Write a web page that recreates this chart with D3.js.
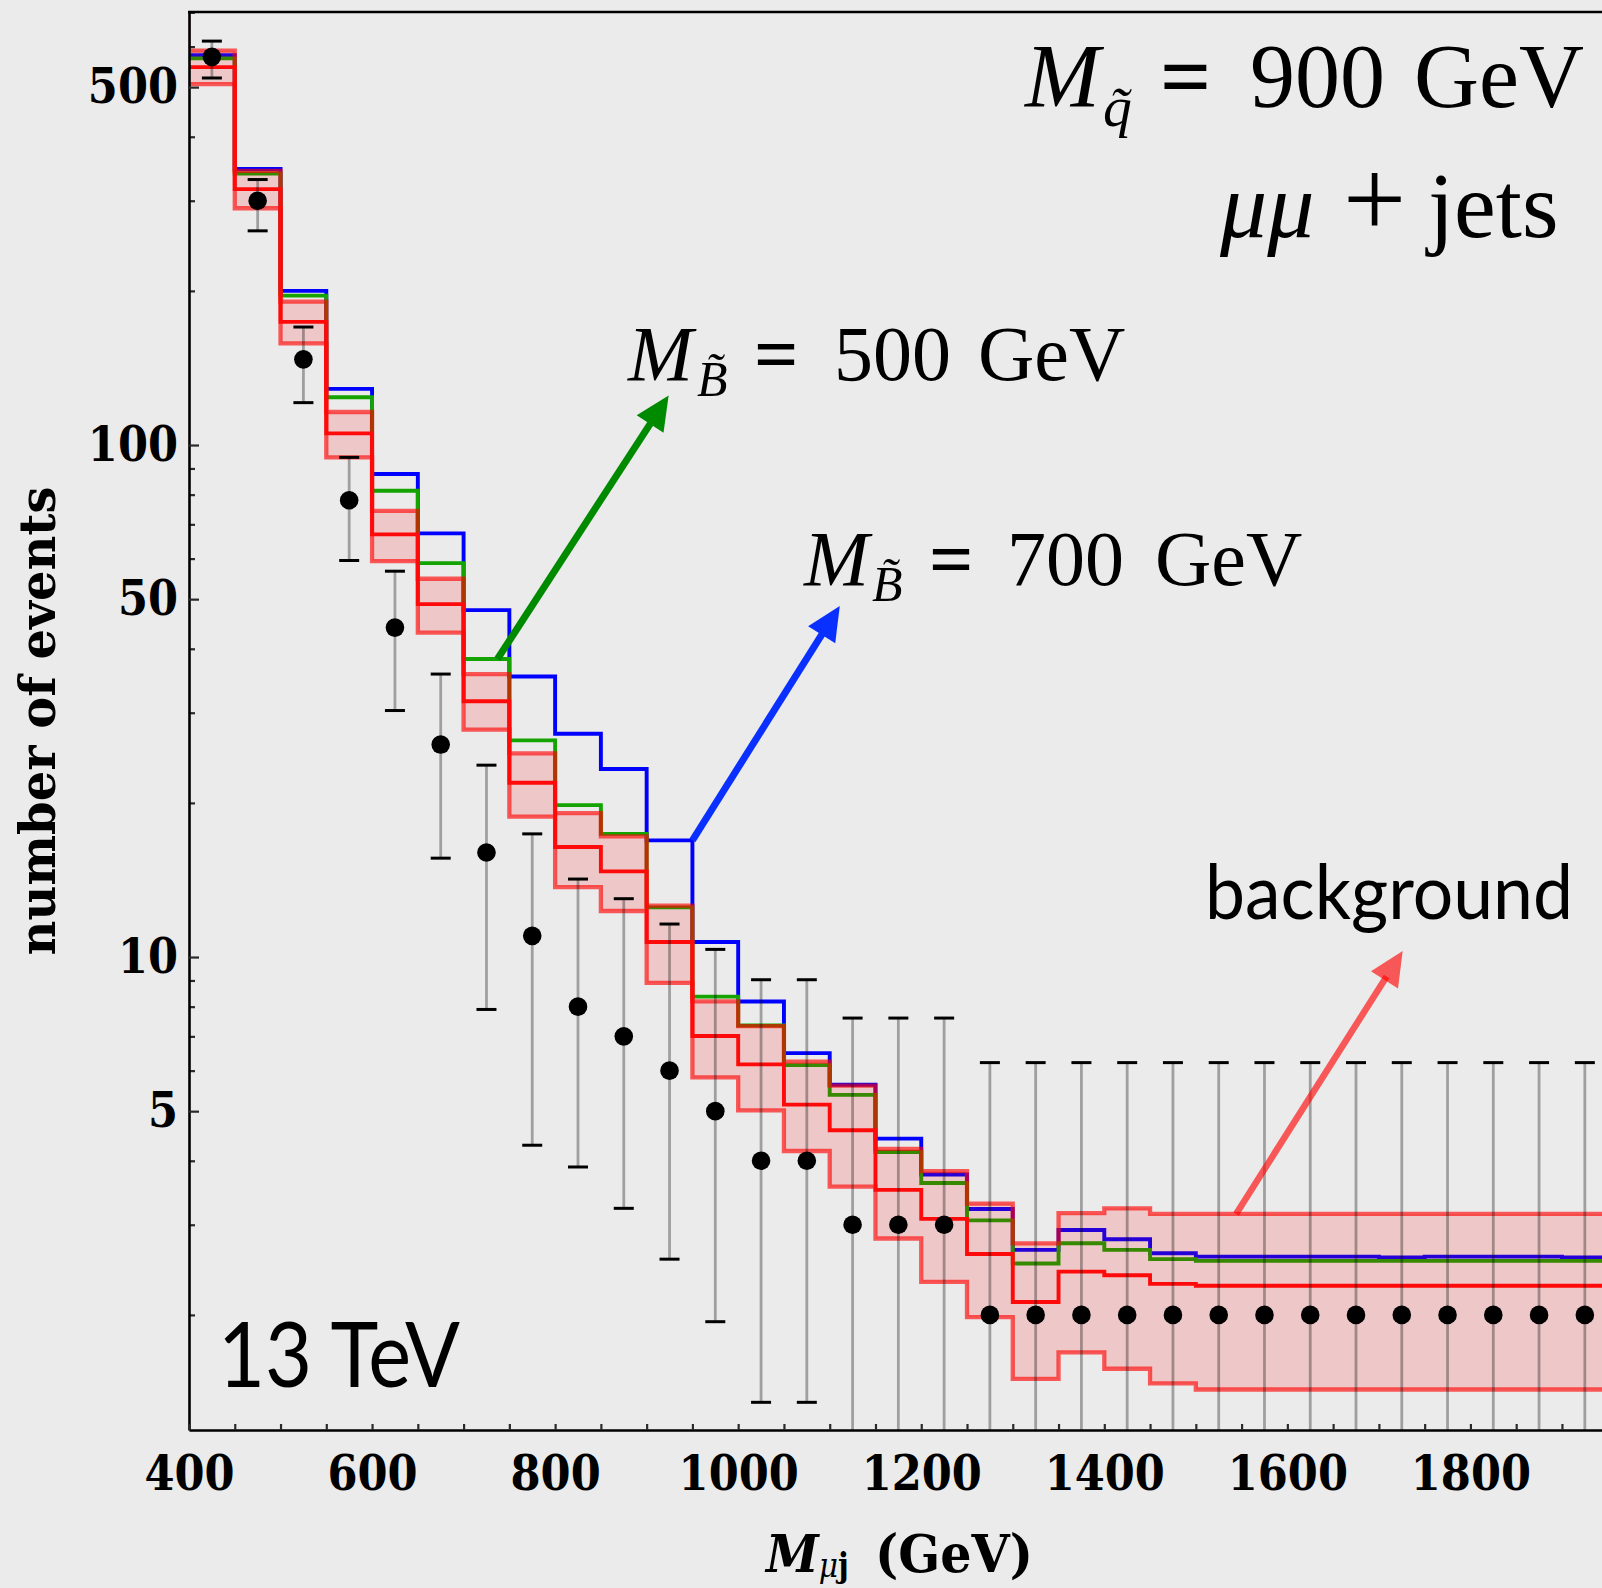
<!DOCTYPE html>
<html>
<head>
<meta charset="utf-8">
<script src="https://cdnjs.cloudflare.com/ajax/libs/d3/7.8.5/d3.min.js"></script>
<style>
body{margin:0;background:#ebebeb;}
svg{display:block;}
</style>
</head>
<body>
<svg id="chart" width="1602" height="1588"></svg>
<script>

// ------------------------------------------------ DATA ------------------------------------------------
// lower edge of every 50 GeV bin in M_muj
var binStart = [400,450,500,550,600,650,700,750,800,850,900,950,1000,1050,1100,1150,1200,1250,1300,1350,
                1400,1450,1500,1550,1600,1650,1700,1750,1800,1850,1900];
var BIN_WIDTH = 50;

// signal + background, M_Bino = 700 GeV (blue)
var sig700 = [577,346,200,128.7,87.8,67.2,47.6,35.3,27.3,23.3,16.9,10.7,8.19,6.49,5.63,4.42,3.76,3.22,2.68,
              2.93,2.81,2.64,2.60,2.60,2.60,2.60,2.59,2.60,2.60,2.60,2.59];
// signal + background, M_Bino = 500 GeV (green)
var sig500 = [569,339,195.8,124,81.4,58.8,38.2,26.5,19.8,17.4,12.5,8.37,7.35,6.15,5.38,4.16,3.62,3.06,2.52,
              2.76,2.68,2.57,2.55,2.55,2.55,2.55,2.55,2.55,2.55,2.55,2.55];
// background central value (red) and its band
var bg = [547,316,174,105.4,66.9,48.9,31.6,21.9,16.4,14.7,10.7,7.01,6.17,5.15,4.59,3.51,3.08,2.63,2.12,
          2.43,2.39,2.30,2.28,2.28,2.28,2.28,2.28,2.28,2.28,2.28,2.28];
var bgHigh = [589,343,190.6,116,74.4,54.8,35.7,25.0,19.1,17.2,12.6,8.19,7.33,6.25,5.61,4.22,3.82,3.30,2.76,
              3.16,3.23,3.15,3.15,3.15,3.15,3.15,3.15,3.15,3.15,3.15,3.15];
var bgLow = [507,290,158,94.6,59.3,43.0,27.8,18.8,13.7,12.3,8.9,5.82,5.02,4.18,3.56,2.82,2.32,1.98,1.50,
             1.69,1.57,1.47,1.43,1.43,1.43,1.43,1.43,1.43,1.43,1.43,1.43];
// pseudo data with error bars
var counts = [573,300,147,78,44,26,16,11,8,7,6,5,4,4,3,3,3,2,2,2,2,2,2,2,2,2,2,2,2,2,2];
var errUp = [615,330,170,94.6,56.7,35.7,23.7,17.4,14.2,13.0,11.6,10.35,9.03,9.03,7.6,7.6,7.6,6.22,6.22,
             6.22,6.22,6.22,6.22,6.22,6.22,6.22,6.22,6.22,6.22,6.22,6.22];
var errDown = [521,262,121,59.5,30.3,15.6,7.9,4.29,3.89,3.23,2.57,1.94,1.35,1.35,0.8,0.8,0.8,0.4,0.4,
               0.4,0.4,0.4,0.4,0.4,0.4,0.4,0.4,0.4,0.4,0.4,0.4];

// axes
var xRange = [400,1950];
var yRange = [1.192,701];
var xTickValues = [450,500,550,600,650,700,750,800,850,900,950,1000,1050,1100,1150,1200,1250,1300,1350,
                   1400,1450,1500,1550,1600,1650,1700,1750,1800,1850,1900];
var xTickLabels = [400,600,800,1000,1200,1400,1600,1800];
var yMajorTicks = [5,10,50,100,500];
var yMinorTicks = [2,3,4,6,7,8,9,20,30,40,60,70,80,90,200,300,400,600,700];

// annotation arrows, in data coordinates [GeV, events]
var arrowGreen = [[737,38.2],[924,125]];
var arrowBlue = [[950,16.9],[1111,48.5]];
var arrowRed = [[1544,3.15],[1726,10.27]];

// ------------------------------------------------ LAYOUT ----------------------------------------------
var PLOT_LEFT = 189;
var PLOT_TOP = 12;
var PLOT_BOTTOM = 1430;
var PX_PER_GEV = 0.9153;

var COLOR_BLUE = "#0000ff";
var COLOR_GREEN = "#14a300";
var COLOR_RED = "#ff0a0a";
var COLOR_BAND_LINE = "rgba(255,0,0,0.63)";
var COLOR_BAND_FILL = "rgba(255,0,0,0.15)";
var SERIF = "'Liberation Serif','Times New Roman',serif";
var TICKFONT = "'DejaVu Serif Condensed','DejaVu Serif',serif";

var svg = d3.select("#chart");

svg.append("rect")
	.attr("x",0).attr("y",0)
	.attr("width",1602).attr("height",1588)
	.style("fill","#ebebeb");

var x = d3.scaleLinear()
	.domain(xRange)
	.range([PLOT_LEFT,PLOT_LEFT+(xRange[1]-xRange[0])*PX_PER_GEV]);

var y = d3.scaleLog()
	.domain(yRange)
	.range([PLOT_BOTTOM,PLOT_TOP]);

svg.append("clipPath").attr("id","plotClip")
	.append("rect")
	.attr("x",PLOT_LEFT).attr("y",PLOT_TOP)
	.attr("width",1602-PLOT_LEFT).attr("height",PLOT_BOTTOM-PLOT_TOP);

var plot = svg.append("g").attr("clip-path","url(#plotClip)");

// ------------------------------------------------ HISTOGRAMS ------------------------------------------

/** builds the points of a step histogram: two points per bin */
function _stepPoints(values){
	var pts = [];
	for (var i in binStart){
		pts.push({x:binStart[i],v:values[i],i:+i});
		pts.push({x:binStart[i]+BIN_WIDTH,v:values[i],i:+i});
	}
	return pts;
}

var stepLine = d3.line()
	.x(function(d){return x(d.x);})
	.y(function(d){return y(d.v);});

function _drawStep(svg,values,color,width){
	svg.append("path")
		.datum(_stepPoints(values))
		.attr("d",stepLine)
		.style("fill","none")
		.style("stroke",color)
		.style("stroke-width",width)
		.style("stroke-linejoin","miter");
}

_drawStep(plot,sig700,COLOR_BLUE,3.9);
_drawStep(plot,sig500,COLOR_GREEN,3.9);

// background band
var bandArea = d3.area()
	.x(function(d){return x(d.x);})
	.y0(function(d){return y(bgLow[d.i]);})
	.y1(function(d){return y(bgHigh[d.i]);});

plot.append("path")
	.datum(_stepPoints(bg))
	.attr("d",bandArea)
	.style("fill",COLOR_BAND_FILL)
	.style("stroke","none");

// upper edge enters from the top of the frame
plot.append("line")
	.attr("x1",x(binStart[0])).attr("x2",x(binStart[0]))
	.attr("y1",y(yRange[1])).attr("y2",y(bgHigh[0]))
	.style("stroke",COLOR_BAND_LINE)
	.style("stroke-width",2.5);

_drawStep(plot,bgHigh,COLOR_BAND_LINE,4.3);
_drawStep(plot,bgLow,COLOR_BAND_LINE,4.3);
_drawStep(plot,bg,COLOR_RED,3.9);

// ------------------------------------------------ DATA POINTS -----------------------------------------
var points = plot.append("g").attr("id","points");
points.selectAll(".point")
	.data(counts)
	.enter()
	.append("g")
	.attr("class","point")
	.each(function(d,i){
		var g = d3.select(this);
		var cx = x(binStart[i]+BIN_WIDTH/2);
		g.append("line")
			.attr("x1",cx).attr("x2",cx)
			.attr("y1",y(errUp[i])).attr("y2",y(errDown[i]))
			.style("stroke","rgba(0,0,0,0.32)")
			.style("stroke-width",2.8);
		g.append("line")
			.attr("x1",cx-10).attr("x2",cx+10)
			.attr("y1",y(errUp[i])).attr("y2",y(errUp[i]))
			.style("stroke","#000")
			.style("stroke-width",3);
		g.append("line")
			.attr("x1",cx-10).attr("x2",cx+10)
			.attr("y1",y(errDown[i])).attr("y2",y(errDown[i]))
			.style("stroke","#000")
			.style("stroke-width",3);
		g.append("circle")
			.attr("cx",cx)
			.attr("cy",y(d))
			.attr("r",9.3)
			.style("fill","#000");
	});

// ------------------------------------------------ AXES ------------------------------------------------
var yAxisMinor = svg.append("g")
	.attr("transform","translate("+PLOT_LEFT+",0)")
	.call(d3.axisLeft(y).tickValues(yMinorTicks).tickSize(-6).tickSizeOuter(0).tickFormat(""));
yAxisMinor.select(".domain").remove();

var yAxisMajor = svg.append("g")
	.attr("transform","translate("+PLOT_LEFT+",0)")
	.call(d3.axisLeft(y).tickValues(yMajorTicks).tickSize(-10).tickSizeOuter(0).tickPadding(11)
		.tickFormat(d3.format("d")));

var xAxis = svg.append("g")
	.attr("transform","translate(0,"+PLOT_BOTTOM+")")
	.call(d3.axisBottom(x).tickValues([400].concat(xTickValues)).tickSize(-6).tickSizeOuter(0)
		.tickFormat(function(d){return xTickLabels.indexOf(d)>=0 ? d : "";}));

svg.selectAll(".tick line")
	.style("stroke","#2a2a2a")
	.style("stroke-width",2.2);
svg.selectAll(".domain")
	.style("stroke","#000")
	.style("stroke-width",2.6);
svg.selectAll(".tick text")
	.style("font-family",TICKFONT)
	.style("font-weight","bold")
	.style("font-size","48px")
	.style("fill","#000");
xAxis.selectAll(".tick text")
	.attr("y",60)
	.attr("dy",null);

// top frame line
svg.append("line")
	.attr("x1",PLOT_LEFT-1).attr("x2",1602)
	.attr("y1",PLOT_TOP).attr("y2",PLOT_TOP)
	.style("stroke","#000")
	.style("stroke-width",2.4);

// axis titles
svg.append("text")
	.attr("transform","translate(55,721) rotate(-90)")
	.attr("text-anchor","middle")
	.attr("textLength",469)
	.attr("lengthAdjust","spacingAndGlyphs")
	.style("font-family",TICKFONT)
	.style("font-weight","bold")
	.style("font-size","50px")
	.text("number of events");

var xTitle = svg.append("text")
	.attr("x",766).attr("y",1572)
	.style("font-family",TICKFONT)
	.style("font-weight","bold")
	.style("font-size","53px");
xTitle.append("tspan").style("font-style","italic").text("M");
xTitle.append("tspan").attr("dy",5).style("font-size","33px").style("font-style","italic")
	.style("font-weight","normal").text("\u03bc");
xTitle.append("tspan").style("font-size","33px").text("j");
xTitle.append("tspan").attr("x",875).attr("dy",-5).attr("textLength",158)
	.attr("lengthAdjust","spacingAndGlyphs").text("(GeV)");

// ------------------------------------------------ ANNOTATIONS -----------------------------------------
function _drawArrow(svg,p,color,width){
	var x1 = x(p[0][0]), y1 = y(p[0][1]);
	var x2 = x(p[1][0]), y2 = y(p[1][1]);
	var _len = Math.sqrt((x2-x1)*(x2-x1)+(y2-y1)*(y2-y1));
	var ux = (x2-x1)/_len, uy = (y2-y1)/_len;
	var _headLen = 34, _headHalf = 16;
	var bx = x2-ux*_headLen, by = y2-uy*_headLen;
	svg.append("line")
		.attr("x1",x1).attr("y1",y1)
		.attr("x2",bx+ux*4).attr("y2",by+uy*4)
		.style("stroke",color)
		.style("stroke-width",width);
	svg.append("path")
		.attr("d","M"+x2+","+y2+"L"+(bx-uy*_headHalf)+","+(by+ux*_headHalf)+"L"+(bx+uy*_headHalf)+","+(by-ux*_headHalf)+"Z")
		.style("fill",color);
}

_drawArrow(svg,arrowGreen,"#008a00",7);
_drawArrow(svg,arrowBlue,"#0a30ff",7);
_drawArrow(svg,arrowRed,"rgba(255,0,0,0.63)",6.5);

/** math style label: italic M with a subscript, then "= value GeV" */
function _drawMassLabel(svg,xs,base,size,sub,value){
	var t = svg.append("text")
		.attr("y",base)
		.style("font-family",SERIF)
		.style("font-size",size+"px")
		.style("fill","#000");
	t.append("tspan").attr("x",xs[0]).style("font-style","italic").text("M");
	t.append("tspan").attr("x",xs[1]).attr("y",base+size*0.21).style("font-style","italic")
		.style("font-size",(size*0.64)+"px").text(sub);
	t.append("tspan").attr("x",xs[2]).attr("y",base).style("font-weight","bold").text("=");
	t.append("tspan").attr("x",xs[3]).text(value);
	t.append("tspan").attr("x",xs[4]).text("GeV");
}

_drawMassLabel(svg,[1025,1103,1160,1250,1414],107,90,"q\u0303","900");
_drawMassLabel(svg,[628,697,754,834,978],380,78,"B\u0303","500");
_drawMassLabel(svg,[804,872,929,1007,1155],585,78,"B\u0303","700");

var chan = svg.append("text")
	.attr("y",237)
	.style("font-family",SERIF)
	.style("font-size","94px");
chan.append("tspan").attr("x",1220).style("font-style","italic").text("\u03bc\u03bc");
chan.append("tspan").attr("x",1343).style("font-size","112px").text("+");
chan.append("tspan").attr("x",1428).attr("y",237).text("jets");

svg.append("text")
	.attr("x",1205).attr("y",919)
	.attr("textLength",368)
	.attr("lengthAdjust","spacingAndGlyphs")
	.style("font-family","Lato,'Open Sans',sans-serif")
	.style("font-size","76px")
	.text("background");

svg.append("text")
	.attr("x",218).attr("y",1387)
	.attr("textLength",242)
	.attr("lengthAdjust","spacingAndGlyphs")
	.style("font-family","Lato,'Open Sans',sans-serif")
	.style("font-size","92px")
	.text("13 TeV");

</script>
</body>
</html>
